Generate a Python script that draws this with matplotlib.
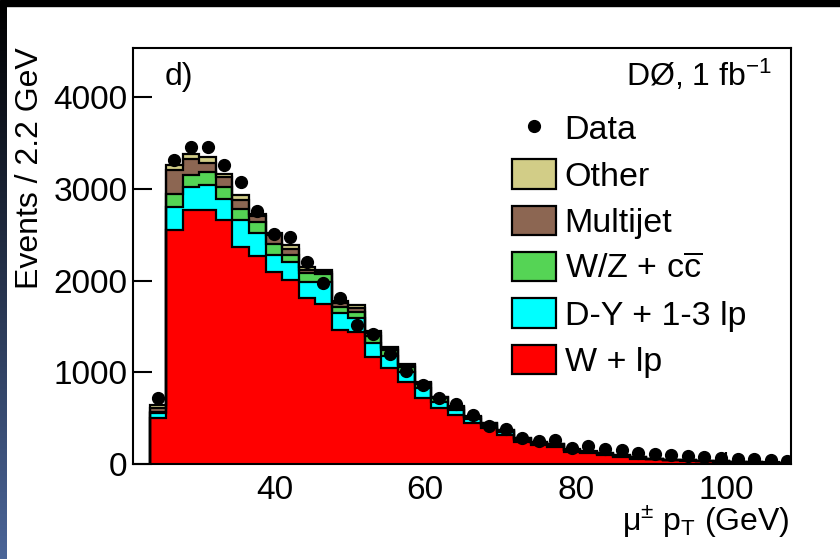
import numpy as np
import matplotlib.pyplot as plt
from matplotlib.patches import Rectangle, Patch
from matplotlib.lines import Line2D
from matplotlib.colors import LinearSegmentedColormap

plt.rcParams['font.family'] = ['Liberation Sans', 'DejaVu Sans']
plt.rcParams['mathtext.fontset'] = 'custom'
plt.rcParams['mathtext.rm'] = 'Liberation Sans'
plt.rcParams['mathtext.it'] = 'Liberation Sans:italic'
plt.rcParams['mathtext.bf'] = 'Liberation Sans:bold'

# binning: 2.2 GeV bins starting at 23.4 GeV
bin_start = 23.4
bin_width = 2.2

data_counts = [720, 3320, 3455, 3465, 3260, 3075, 2765, 2515, 2480, 2200,
               1975, 1810, 1520, 1420, 1200, 1010, 860, 725, 655, 530,
               420, 385, 280, 255, 260, 180, 200, 160, 150, 125,
               110, 95, 85, 75, 65, 60, 50, 45, 35]

w_lp = [500, 2550, 2770, 2770, 2660, 2370, 2270, 2100, 2005, 1815,
        1750, 1460, 1445, 1170, 1045, 900, 716, 615, 534, 444,
        390, 316, 243, 207, 189, 134, 116, 98, 80, 60,
        50, 40, 35, 30, 25, 20, 15, 12, 10]
dy_lp = [53, 256, 254, 273, 236, 291, 246, 179, 201, 173,
         238, 183, 144, 146, 130, 100, 109, 65, 55, 46,
         30, 34, 22, 18, 16, 14, 12, 10, 8, 7,
         5, 4, 4, 3, 3, 2, 2, 2, 1]
wz_cc = [12, 146, 128, 145, 127, 117, 127, 127, 73, 92,
         84, 73, 72, 84, 65, 55, 45, 35, 26, 20,
         16, 14, 11, 9, 8, 7, 6, 5, 4, 4,
         3, 3, 2, 2, 2, 1, 1, 1, 1]
multijet = [45, 254, 178, 92, 106, 101, 60, 90, 66, 40,
            20, 40, 40, 30, 25, 20, 15, 12, 10, 8,
            6, 5, 4, 3, 3, 2, 2, 2, 2, 1,
            1, 1, 1, 1, 1, 1, 1, 1, 1]
other = [30, 60, 50, 71, 40, 54, 30, 30, 50, 25,
         23, 20, 33, 20, 15, 12, 10, 8, 7, 6,
         5, 4, 3, 3, 3, 2, 2, 2, 2, 1,
         1, 1, 1, 1, 1, 1, 1, 1, 1]

labels = ['W + lp', 'D-Y + 1-3 lp', r'W/Z + c$\overline{\mathrm{c}}$', 'Multijet', 'Other']
colors = ['#ff0000', '#00ffff', '#55d455', '#8c6652', '#d2cd87']

nb = len(data_counts)
edges = bin_start + bin_width * np.arange(nb + 1)
centers = edges[:-1] + bin_width / 2

fig = plt.figure(figsize=(8.4, 5.59), dpi=100)
fig.patch.set_facecolor('white')
# slide decoration: black top band, dark-blue gradient strip on the left
fig.patches.append(Rectangle((0, 1 - 6 / 559), 1, 6 / 559, transform=fig.transFigure,
                             color='black', zorder=0))
strip = fig.add_axes([0, 0, 7 / 840, 1 - 6 / 559])
cmap = LinearSegmentedColormap.from_list('strip', ['black', '#4b6598'])
strip.imshow(np.linspace(0, 1, 256)[:, None], aspect='auto', cmap=cmap)
strip.axis('off')

ax = fig.add_axes([133 / 840, 95 / 559, 658 / 840, 416 / 559])

cum = np.cumsum([w_lp, dy_lp, wz_cc, multijet, other], axis=0)
for i in reversed(range(len(labels))):
    ax.stairs(cum[i], edges, fill=True, color=colors[i], zorder=2)
    ax.stairs(cum[i], edges, color='black', lw=1.6, zorder=3)

ax.errorbar(centers, data_counts, yerr=np.sqrt(data_counts), fmt='o', color='black',
            ms=8.5, elinewidth=1, capsize=0, zorder=5)

ax.set_xlim(21.2, 108.6)
ax.set_ylim(0, 4540)
ax.set_xticks([40, 60, 80, 100])
ax.set_yticks([0, 1000, 2000, 3000, 4000])
ax.tick_params(direction='in', width=1.5, labelsize=24, color='black')
ax.tick_params(axis='x', length=9, pad=8)
ax.tick_params(axis='y', length=14, pad=4)
for s in ax.spines.values():
    s.set_linewidth(1.5)

fig.text(30 / 840, 1 - 47 / 559, 'Events / 2.2 GeV', rotation=90, ha='center', va='top',
         fontsize=23)
fig.text(790 / 840, 1 - 531 / 559, r'μ$^{\pm}$ p$_{\mathrm{T}}$ (GeV)', ha='right',
         va='baseline', fontsize=23)
fig.text(165 / 840, 1 - 62 / 559, 'd)', ha='left', va='top', fontsize=23)
fig.text(772 / 840, 1 - 58 / 559, r'DØ, 1 fb$^{\mathrm{-1}}$', ha='right', va='top', fontsize=23)

handles = [Line2D([], [], marker='o', ls='none', color='black', ms=8.5)]
for i in reversed(range(len(labels))):
    handles.append(Patch(facecolor=colors[i], edgecolor='black', lw=1.6))
leg = ax.legend(handles, ['Data'] + labels[::-1], loc='upper left',
                bbox_to_anchor=((512 - 133) / 658, (464 - 113) / 416),
                frameon=False, fontsize=24.5, borderpad=0, handlelength=1.3,
                handleheight=0.95, handletextpad=0.25, labelspacing=0.38,
                borderaxespad=0)

fig.savefig('out.png', dpi=100)
